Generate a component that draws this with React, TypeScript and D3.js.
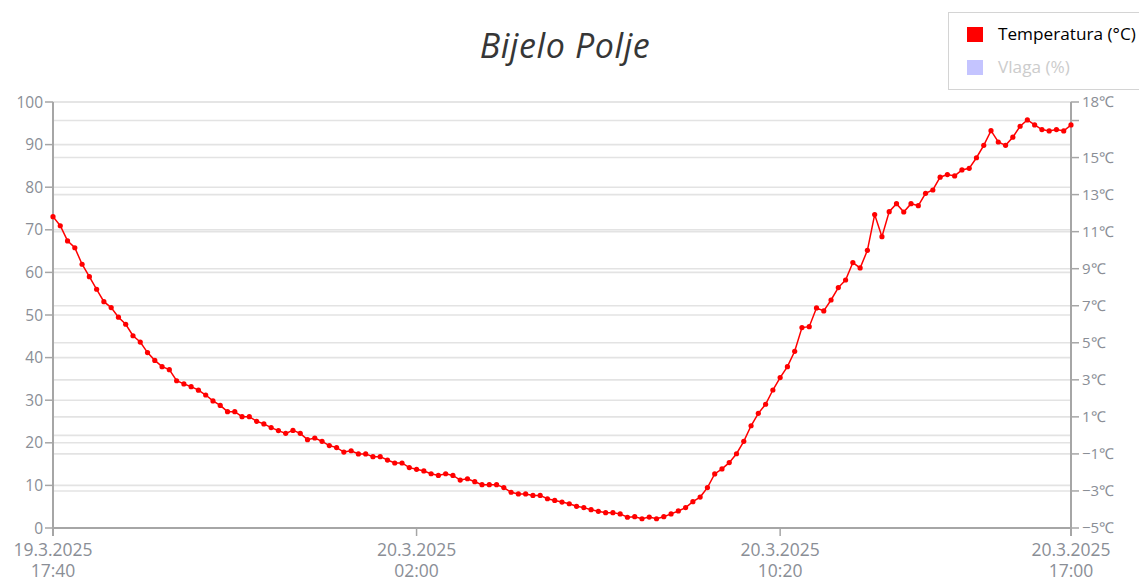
import React, { useEffect, useRef } from "react";
import * as d3 from "d3";

const startTime = new Date(2025, 2, 19, 17, 40);
const endTime = new Date(2025, 2, 20, 17, 0);
const stepMinutes = 10;

const temperature: number[] = [
  11.81, 11.32, 10.5, 10.13, 9.24, 8.57, 7.89, 7.22, 6.9, 6.38,
  6.0, 5.38, 5.04, 4.47, 4.05, 3.71, 3.55, 2.95, 2.78, 2.63,
  2.44, 2.18, 1.86, 1.62, 1.28, 1.28, 1.01, 1.01, 0.76, 0.62,
  0.42, 0.26, 0.11, 0.27, 0.11, -0.23, -0.14, -0.32, -0.55, -0.66,
  -0.9, -0.83, -1.0, -1.0, -1.15, -1.15, -1.33, -1.49, -1.49, -1.74,
  -1.83, -1.92, -2.07, -2.16, -2.07, -2.16, -2.41, -2.34, -2.5, -2.66,
  -2.66, -2.66, -2.82, -3.07, -3.16, -3.16, -3.24, -3.24, -3.42, -3.51,
  -3.6, -3.69, -3.83, -3.9, -4.01, -4.1, -4.17, -4.17, -4.24, -4.42,
  -4.39, -4.5, -4.41, -4.5, -4.39, -4.24, -4.08, -3.9, -3.58, -3.33,
  -2.82, -2.08, -1.81, -1.47, -0.99, -0.32, 0.52, 1.19, 1.68, 2.45,
  3.12, 3.71, 4.54, 5.82, 5.87, 6.88, 6.72, 7.31, 7.98, 8.39,
  9.33, 9.04, 9.99, 11.92, 10.73, 12.08, 12.51, 12.06, 12.51, 12.4,
  13.07, 13.25, 13.94, 14.08, 14.01, 14.33, 14.42, 14.99, 15.66, 16.45,
  15.84, 15.66, 16.1, 16.69, 17.03, 16.76, 16.51, 16.44, 16.51, 16.44,
  16.76,
];

const leftTicks = [0, 10, 20, 30, 40, 50, 60, 70, 80, 90, 100];
const rightTicks = [-5, -3, -1, 1, 3, 5, 7, 9, 11, 13, 15, 17, 18];
const rightHiddenLabels = [17];
const zeroLine = 0;
const xTicks = [
  new Date(2025, 2, 19, 17, 40),
  new Date(2025, 2, 20, 2, 0),
  new Date(2025, 2, 20, 10, 20),
  new Date(2025, 2, 20, 17, 0),
];

const title = "Bijelo Polje";
const legendItems = [
  { name: "Temperatura (°C)", color: "#ff0000", text: "#000000" },
  { name: "Vlaga (%)", color: "#c4c4ff", text: "#cccccc" },
];

const W = 1139;
const H = 579;
const FONT = "'Open Sans', sans-serif";

export default function App() {
  const ref = useRef<SVGSVGElement | null>(null);

  useEffect(() => {
    const svg = d3.select(ref.current);
    svg.selectAll("*").remove();

    const left = 53, right = 1071, top = 102, bottom = 528;
    const x = d3.scaleTime().domain([startTime, endTime]).range([left, right]);
    const yL = d3.scaleLinear().domain([0, 100]).range([bottom, top]);
    const yR = d3.scaleLinear().domain([-5, 18]).range([bottom, top]);

    const data = temperature.map((v, i) => ({
      t: d3.timeMinute.offset(startTime, i * stepMinutes),
      v,
    }));

    const grid = svg.append("g");
    leftTicks.forEach((t) => {
      grid.append("line")
        .attr("x1", left).attr("x2", right)
        .attr("y1", yL(t)).attr("y2", yL(t))
        .attr("stroke", "#e3e3e3").attr("stroke-width", 1.6);
    });
    [...rightTicks, zeroLine].forEach((t) => {
      grid.append("line")
        .attr("x1", left).attr("x2", right)
        .attr("y1", yR(t)).attr("y2", yR(t))
        .attr("stroke", "#e3e3e3").attr("stroke-width", 1.6);
    });

    // title
    svg.append("text")
      .attr("x", 565).attr("y", 58)
      .attr("text-anchor", "middle")
      .attr("font-family", FONT)
      .attr("font-style", "italic")
      .attr("font-size", 34)
      .attr("letter-spacing", 0.6)
      .attr("fill", "#363636")
      .text(title);

    const axisColor = "#a6a6a6";
    const labelColor = "#8a8e96";

    // left axis
    const gl = svg.append("g");
    gl.append("line").attr("x1", left).attr("x2", left).attr("y1", top).attr("y2", bottom + 8)
      .attr("stroke", axisColor).attr("stroke-width", 2);
    leftTicks.forEach((t) => {
      gl.append("line").attr("x1", left - 8).attr("x2", left).attr("y1", yL(t)).attr("y2", yL(t))
        .attr("stroke", axisColor).attr("stroke-width", 1.5);
      gl.append("text").attr("x", left - 10).attr("y", yL(t)).attr("dy", "0.36em")
        .attr("text-anchor", "end").attr("font-family", FONT).attr("font-size", 15.5)
        .attr("fill", labelColor).text(String(t));
    });

    // right axis
    const gr = svg.append("g");
    gr.append("line").attr("x1", right).attr("x2", right).attr("y1", top).attr("y2", bottom + 8)
      .attr("stroke", axisColor).attr("stroke-width", 2);
    rightTicks.forEach((t) => {
      gr.append("line").attr("x1", right).attr("x2", right + 8).attr("y1", yR(t)).attr("y2", yR(t))
        .attr("stroke", axisColor).attr("stroke-width", 1.5);
      if (!rightHiddenLabels.includes(t)) {
        gr.append("text").attr("x", right + 11).attr("y", yR(t)).attr("dy", "0.36em")
          .attr("text-anchor", "start").attr("font-family", FONT).attr("font-size", 15)
          .attr("fill", labelColor).text((t < 0 ? "\u2212" + Math.abs(t) : String(t)) + "℃");
      }
    });

    // x axis
    const gx = svg.append("g");
    gx.append("line").attr("x1", left).attr("x2", right).attr("y1", bottom).attr("y2", bottom)
      .attr("stroke", axisColor).attr("stroke-width", 2);
    const fDate = d3.timeFormat("%-d.%-m.%Y");
    const fTime = d3.timeFormat("%H:%M");
    xTicks.forEach((t) => {
      const px = x(t);
      gx.append("line").attr("x1", px).attr("x2", px).attr("y1", bottom).attr("y2", bottom + 8)
        .attr("stroke", axisColor).attr("stroke-width", 1.5);
      gx.append("text").attr("x", px).attr("y", 556).attr("text-anchor", "middle")
        .attr("font-family", FONT).attr("font-size", 17.5).attr("fill", labelColor).text(fDate(t));
      gx.append("text").attr("x", px).attr("y", 576.5).attr("text-anchor", "middle")
        .attr("font-family", FONT).attr("font-size", 17.5).attr("fill", labelColor).text(fTime(t));
    });

    // series
    const line = d3.line<{ t: Date; v: number }>().x((d) => x(d.t)).y((d) => yR(d.v));
    svg.append("path").datum(data).attr("d", line).attr("fill", "none")
      .attr("stroke", "#ff0000").attr("stroke-width", 1.5);
    svg.append("g").selectAll("circle").data(data).join("circle")
      .attr("cx", (d) => x(d.t)).attr("cy", (d) => yR(d.v)).attr("r", 2.6).attr("fill", "#ff0000");

    // legend
    const lg = svg.append("g");
    lg.append("rect").attr("x", 948.5).attr("y", 12.5).attr("width", 200).attr("height", 77)
      .attr("fill", "#ffffff").attr("stroke", "#d4d4d4").attr("stroke-width", 1);
    legendItems.forEach((it, i) => {
      const cy = 34 + i * 33;
      lg.append("rect").attr("x", 967).attr("y", cy - 7).attr("width", 16).attr("height", 15)
        .attr("fill", it.color);
      lg.append("text").attr("x", 998).attr("y", cy).attr("dy", "0.36em")
        .attr("font-family", FONT).attr("font-size", 17.2).attr("fill", it.text).text(it.name);
    });
  }, []);

  return (
    <svg
      ref={ref}
      width={W}
      height={H}
      style={{ position: "absolute", left: 0, top: 0, display: "block", background: "#fff" }}
    />
  );
}
